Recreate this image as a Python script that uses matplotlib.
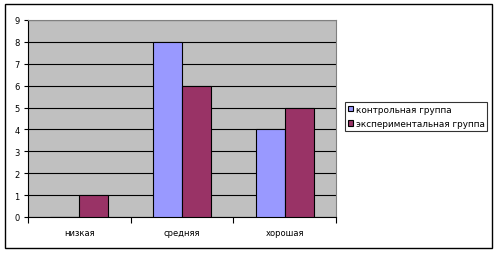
import numpy as np
import matplotlib.pyplot as plt
from matplotlib.patches import Rectangle

categories = ["низкая", "средняя", "хорошая"]
control = [0, 8, 4]
experiment = [1, 6, 5]
series_names = ["контрольная группа", "экспериментальная группа"]

W, H = 498, 255
fig = plt.figure(figsize=(W / 100, H / 100), dpi=100)
fig.patch.set_facecolor("white")

# outer frame
fig.patches.append(Rectangle((5 / W, 1 - 249 / H), 487 / W, 244 / H, transform=fig.transFigure,
                             fill=False, edgecolor="black", linewidth=1))

ax = fig.add_axes([28 / W, 1 - 218 / H, 308 / W, 197 / H])
ax.set_facecolor("#C0C0C0")

x = np.arange(len(categories))
bw = 0.283
ax.bar(x - bw / 2, control, bw, color="#9999FF", edgecolor="black", linewidth=0.8,
       label=series_names[0], zorder=3)
ax.bar(x + bw / 2, experiment, bw, color="#993366", edgecolor="black", linewidth=0.8,
       label=series_names[1], zorder=3)

ax.set_xlim(-0.5, 2.5)
ax.set_ylim(0, 9)
ax.set_yticks(range(10))
ax.yaxis.grid(True, color="black", linewidth=0.8, zorder=1)
ax.set_axisbelow(True)

ax.set_xticks([-0.5, 0.5, 1.5, 2.5])
ax.set_xticklabels([])
ax.set_xticks(x, minor=True)
ax.set_xticklabels(categories, minor=True)
ax.tick_params(axis="x", which="minor", length=0, pad=8, labelsize=6)
ax.tick_params(axis="x", which="major", length=4, width=0.8)
ax.tick_params(axis="y", length=3, width=0.8, labelsize=6, pad=3)

for s in ["top", "right"]:
    ax.spines[s].set_color("#808080")
ax.spines["left"].set_linewidth(0.8)
ax.spines["bottom"].set_linewidth(0.8)

leg = fig.legend(loc="upper left", bbox_to_anchor=(345 / W, 1 - 103 / H), fontsize=6.4,
                 frameon=True, fancybox=False, edgecolor="black", handlelength=0.6,
                 handleheight=0.6, handletextpad=0.3, borderpad=0.3, labelspacing=0.6,
                 borderaxespad=0)
leg.get_frame().set_linewidth(0.8)

fig.savefig("out.png", dpi=100)
